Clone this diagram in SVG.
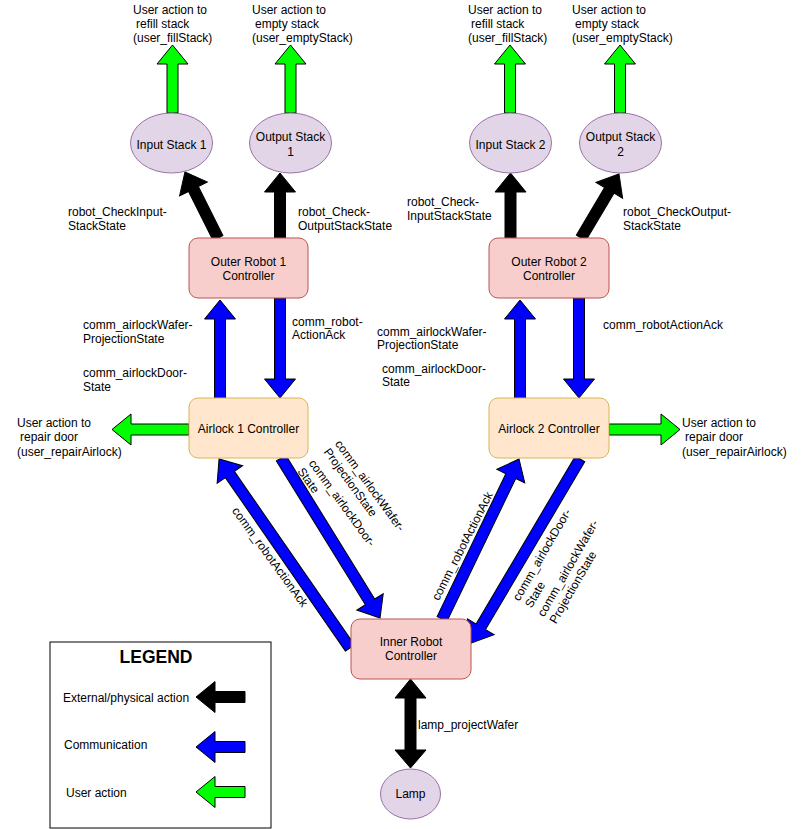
<svg xmlns="http://www.w3.org/2000/svg" width="801" height="829" viewBox="0 0 801 829">
<style>
text{font-family:"Liberation Sans",Arial,sans-serif;font-size:12px;fill:#000}
.c{text-anchor:middle}
.k{fill:#000;stroke:#000;stroke-width:1}
.b{fill:#0000ff;stroke:#000;stroke-width:1}
.g{fill:#00ff00;stroke:#000;stroke-width:1}
.ell{fill:#e1d5e7;stroke:#9673a6;stroke-width:1}
.red{fill:#f8cecc;stroke:#b85450;stroke-width:1}
.org{fill:#ffe6cc;stroke:#d6b656;stroke-width:1}
</style>
<rect width="801" height="829" fill="#fff"/>
<g id="connectors">
<polygon class="g" transform="translate(172.5,113) rotate(-90)" points="0,-5.5 49,-5.5 49,-15.5 68,0 49,15.5 49,5.5 0,5.5"/>
<polygon class="g" transform="translate(290.5,113) rotate(-90)" points="0,-5.5 49,-5.5 49,-15.5 68,0 49,15.5 49,5.5 0,5.5"/>
<polygon class="g" transform="translate(510,113) rotate(-90)" points="0,-5.5 49,-5.5 49,-15.5 68,0 49,15.5 49,5.5 0,5.5"/>
<polygon class="g" transform="translate(620,113) rotate(-90)" points="0,-5.5 49,-5.5 49,-15.5 68,0 49,15.5 49,5.5 0,5.5"/>
<polygon class="k" transform="translate(218,238) rotate(-116.6)" points="0,-5.5 54.8,-5.5 54.8,-15.5 73.8,0 54.8,15.5 54.8,5.5 0,5.5"/>
<polygon class="k" transform="translate(280,238) rotate(-90)" points="0,-5.5 46,-5.5 46,-15.5 65,0 46,15.5 46,5.5 0,5.5"/>
<polygon class="k" transform="translate(510.5,238) rotate(-90)" points="0,-5.5 46,-5.5 46,-15.5 65,0 46,15.5 46,5.5 0,5.5"/>
<polygon class="k" transform="translate(581,238) rotate(-59.3)" points="0,-5.5 55.4,-5.5 55.4,-15.5 74.4,0 55.4,15.5 55.4,5.5 0,5.5"/>
<polygon class="b" transform="translate(220,398) rotate(-90)" points="0,-5.5 79,-5.5 79,-15.5 98,0 79,15.5 79,5.5 0,5.5"/>
<polygon class="b" transform="translate(280,298) rotate(90)" points="0,-5.5 81,-5.5 81,-15.5 100,0 81,15.5 81,5.5 0,5.5"/>
<polygon class="b" transform="translate(520,398) rotate(-90)" points="0,-5.5 79,-5.5 79,-15.5 98,0 79,15.5 79,5.5 0,5.5"/>
<polygon class="b" transform="translate(579,298) rotate(90)" points="0,-5.5 81,-5.5 81,-15.5 100,0 81,15.5 81,5.5 0,5.5"/>
<polygon class="g" transform="translate(189,429.5) rotate(180)" points="0,-5.5 58,-5.5 58,-15.5 77,0 58,15.5 58,5.5 0,5.5"/>
<polygon class="g" transform="translate(609,429.5)" points="0,-5.5 52,-5.5 52,-15.5 71,0 52,15.5 52,5.5 0,5.5"/>
<polygon class="b" transform="translate(350,648) rotate(-124.7)" points="0,-5.5 211,-5.5 211,-15.5 230,0 211,15.5 211,5.5 0,5.5"/>
<polygon class="b" transform="translate(281,458) rotate(58.25)" points="0,-5.5 169.2,-5.5 169.2,-15.5 188.2,0 169.2,15.5 169.2,5.5 0,5.5"/>
<polygon class="b" transform="translate(442,619) rotate(-64.3)" points="0,-5.5 158.6,-5.5 158.6,-15.5 177.6,0 158.6,15.5 158.6,5.5 0,5.5"/>
<polygon class="b" transform="translate(580,459) rotate(120.6)" points="0,-5.5 194.9,-5.5 194.9,-15.5 213.9,0 194.9,15.5 194.9,5.5 0,5.5"/>
<polygon class="k" points="410.5,679 426,698 416,698 416,750 426,750 410.5,768 395,750 405,750 405,698 395,698"/>
<text x="17" y="427">User action to</text>
<text x="20" y="441">repair door</text>
<text x="17" y="456">(user_repairAirlock)</text>
<text x="682" y="427">User action to</text>
<text x="685" y="441">repair door</text>
<text x="682" y="456">(user_repairAirlock)</text>
<text x="133" y="14">User action to</text>
<text x="136" y="28">refill stack</text>
<text x="133" y="42">(user_fillStack)</text>
<text x="252" y="14">User action to</text>
<text x="255" y="28">empty stack</text>
<text x="252" y="42">(user_emptyStack)</text>
<text x="468" y="14">User action to</text>
<text x="471" y="28">refill stack</text>
<text x="468" y="42">(user_fillStack)</text>
<text x="572" y="14">User action to</text>
<text x="575" y="28">empty stack</text>
<text x="572" y="42">(user_emptyStack)</text>
<text x="68" y="216">robot_CheckInput-</text>
<text x="68" y="230">StackState</text>
<text x="298" y="216">robot_Check-</text>
<text x="298" y="230">OutputStackState</text>
<text x="407" y="206">robot_Check-</text>
<text x="407" y="220">InputStackState</text>
<text x="623" y="216">robot_CheckOutput-</text>
<text x="623" y="230">StackState</text>
<text x="83" y="329">comm_airlockWafer-</text>
<text x="83" y="343">ProjectionState</text>
<text x="83" y="377">comm_airlockDoor-</text>
<text x="83" y="391">State</text>
<text x="292" y="326">comm_robot-</text>
<text x="292" y="339">ActionAck</text>
<text x="377" y="336">comm_airlockWafer-</text>
<text x="377" y="349">ProjectionState</text>
<text x="382" y="373">comm_airlockDoor-</text>
<text x="382" y="386">State</text>
<text x="603" y="329">comm_robotActionAck</text>
<text class="c" transform="translate(270,557) rotate(54)" y="4">comm_robotActionAck</text>
<g transform="translate(337.8,441.3) rotate(54)"><text y="4">comm_airlockWafer-</text><text y="18">ProjectionState</text></g>
<g transform="translate(311.5,460.8) rotate(54)"><text y="4">comm_airlockDoor-</text><text y="18">State</text></g>
<text class="c" transform="translate(462.5,546) rotate(-63)" y="4">comm_robotActionAck</text>
<g transform="translate(515.9,599.8) rotate(-60)"><text y="4">comm_airlockDoor-</text><text y="18">State</text></g>
<g transform="translate(540.5,615.6) rotate(-60)"><text y="4">comm_airlockWafer-</text><text y="18">ProjectionState</text></g>
<text x="418" y="729">lamp_projectWafer</text>
</g>
<g id="input1"><ellipse class="ell" cx="171.5" cy="143" rx="41" ry="30"/><text class="c" x="171.5" y="149">Input Stack 1</text></g>
<g id="output1"><ellipse class="ell" cx="290.5" cy="143" rx="41" ry="30"/><text class="c" x="290.5" y="141">Output Stack</text><text class="c" x="290.5" y="156">1</text></g>
<g id="input2"><ellipse class="ell" cx="510.5" cy="143" rx="41" ry="30"/><text class="c" x="510.5" y="149">Input Stack 2</text></g>
<g id="output2"><ellipse class="ell" cx="620.5" cy="143" rx="41" ry="30"/><text class="c" x="620.5" y="141">Output Stack</text><text class="c" x="620.5" y="156">2</text></g>
<g id="outer1"><rect class="red" x="189" y="238" width="119" height="60" rx="9"/><text class="c" x="248.5" y="266">Outer Robot 1</text><text class="c" x="248.5" y="280">Controller</text></g>
<g id="outer2"><rect class="red" x="489" y="238" width="120" height="60" rx="9"/><text class="c" x="549" y="266">Outer Robot 2</text><text class="c" x="549" y="280">Controller</text></g>
<g id="airlock1"><rect class="org" x="189" y="398" width="119" height="60" rx="9"/><text class="c" x="248.5" y="433">Airlock 1 Controller</text></g>
<g id="airlock2"><rect class="org" x="489" y="398" width="120" height="60" rx="9"/><text class="c" x="549" y="433">Airlock 2 Controller</text></g>
<g id="inner"><rect class="red" x="351" y="619" width="120" height="60" rx="9"/><text class="c" x="411" y="646">Inner Robot</text><text class="c" x="411" y="660">Controller</text></g>
<g id="lamp"><ellipse class="ell" cx="410.5" cy="794" rx="30" ry="25"/><text class="c" x="410.5" y="798">Lamp</text></g>
<g id="legend">
<rect x="50" y="642" width="221" height="186" fill="#fff" stroke="#000" stroke-width="1"/>
<text class="c" x="156" y="663" style="font-weight:bold;font-size:17.5px">LEGEND</text>
<text x="63" y="702">External/physical action</text>
<text x="64" y="749">Communication</text>
<text x="66" y="797">User action</text>
<polygon class="k" transform="translate(245,697) rotate(180)" points="0,-5.5 30,-5.5 30,-15.5 49,0 30,15.5 30,5.5 0,5.5"/>
<polygon class="b" transform="translate(245,747) rotate(180)" points="0,-5.5 30,-5.5 30,-15.5 49,0 30,15.5 30,5.5 0,5.5"/>
<polygon class="g" transform="translate(245,792) rotate(180)" points="0,-5.5 30,-5.5 30,-15.5 49,0 30,15.5 30,5.5 0,5.5"/>
</g>
</svg>
